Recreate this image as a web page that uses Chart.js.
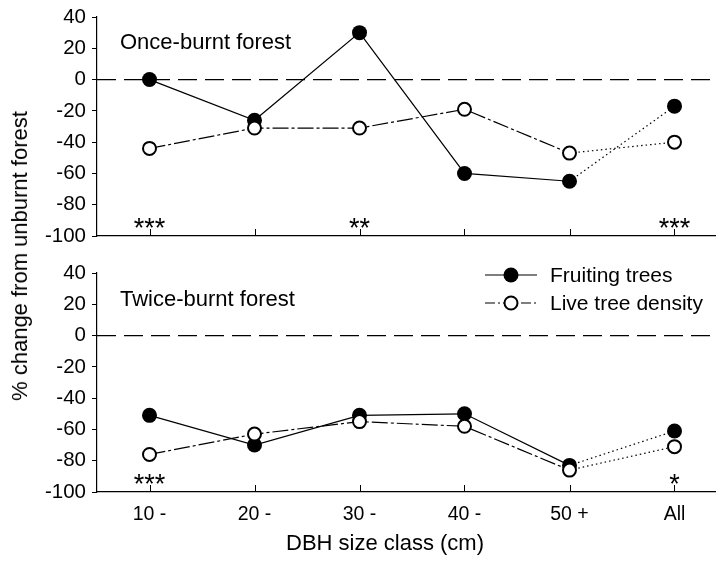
<!DOCTYPE html>
<html>
<head>
<meta charset="utf-8">
<script src="https://cdn.jsdelivr.net/npm/chart.js@4.4.1/dist/chart.umd.min.js"></script>
<style>
	html, body { margin: 0; padding: 0; background: #fff; }
	#wrap { position: relative; width: 716px; height: 564px; overflow: hidden; }
	#topBox { position: absolute; left: 0; top: -6px; width: 716px; height: 268px; }
	#botBox { position: absolute; left: 0; top: 250px; width: 716px; height: 314px; }
	.title { position: absolute; white-space: nowrap; font: 22px "Liberation Sans", Arial, sans-serif; color: #000; }
	#ytitle { left: 20px; top: 256px; transform: translate(-50%, -50%) rotate(-90deg); }
	#xtitle { left: 385px; top: 543px; transform: translate(-50%, -50%); }
</style>
</head>
<body>
<div id="wrap">
	<div id="topBox"><canvas id="top_chart"></canvas></div>
	<div id="botBox"><canvas id="bottom_chart"></canvas></div>
	<div class="title" id="ytitle">% change from unburnt forest</div>
	<div class="title" id="xtitle">DBH size class (cm)</div>
</div>
<script>
// chart values
var categories = ['10 -', '20 -', '30 -', '40 -', '50 +', 'All'];
var onceFruiting = [0, -26, 30, -60, -65, -17];
var onceLive = [-44, -31, -31, -19, -47, -40];
var twiceFruiting = [-51, -70, -51, -50, -83, -61];
var twiceLive = [-76, -63, -55, -58, -86, -71];
var onceStars = ['***', '', '**', '', '', '***'];
var twiceStars = ['***', '', '', '', '', '*'];
var yMin = -100, yMax = 40, yStep = 20;
var starLevel = -92;

var FONT = '"Liberation Sans", Arial, sans-serif';
Chart.defaults.color = '#000';
Chart.defaults.font.family = FONT;

function toPoints(values) {
	return values.map(function (v, i) { return { x: i + 1, y: v }; });
}

// last segment (50 + -> All) is dotted
function lastDotted(normalDash) {
	return function (ctx) {
		return ctx.p1DataIndex === categories.length - 1 ? [1.5, 3] : normalDash;
	};
}

function makeDatasets(fruiting, live) {
	return [{
		label: 'Live tree density',
		data: toPoints(live),
		borderColor: '#000',
		borderWidth: 1.2,
		borderDash: [16, 3, 3, 3],
		pointRadius: 6.5,
		pointBorderWidth: 2,
		pointBackgroundColor: '#fff',
		pointBorderColor: '#000',
		order: 0,
		segment: { borderDash: lastDotted([16, 3, 3, 3]) }
	}, {
		label: 'Fruiting trees',
		data: toPoints(fruiting),
		borderColor: '#000',
		borderWidth: 1.2,
		pointRadius: 7.5,
		pointBorderWidth: 0,
		pointBackgroundColor: '#000',
		order: 1,
		segment: { borderDash: lastDotted([]) }
	}];
}

var panelDecor = {
	id: 'panelDecor',
	beforeDatasetsDraw: function (chart, args, opts) {
		var ctx = chart.ctx;
		var area = chart.chartArea;
		var xs = chart.scales.x;
		var ys = chart.scales.y;
		ctx.save();
		// dashed zero line
		var y0 = ys.getPixelForValue(0);
		ctx.strokeStyle = '#000';
		ctx.lineWidth = 1.2;
		ctx.setLineDash([19, 8]);
		ctx.beginPath();
		ctx.moveTo(area.left, y0);
		ctx.lineTo(area.right, y0);
		ctx.stroke();
		ctx.setLineDash([]);
		// inward x tick marks
		ctx.lineWidth = 1;
		for (var i = 0; i < categories.length; i++) {
			var x = Math.round(xs.getPixelForValue(i + 1)) + 0.5;
			ctx.beginPath();
			ctx.moveTo(x, area.bottom);
			ctx.lineTo(x, area.bottom - 7);
			ctx.stroke();
		}
		// panel label
		ctx.fillStyle = '#000';
		ctx.font = '22px ' + FONT;
		ctx.textBaseline = 'middle';
		ctx.textAlign = 'left';
		ctx.fillText(opts.label, area.left + 23, area.top + opts.labelDy);
		// significance stars
		ctx.font = '27px ' + FONT;
		ctx.textAlign = 'center';
		ctx.textBaseline = 'alphabetic';
		for (var j = 0; j < opts.stars.length; j++) {
			if (!opts.stars[j]) continue;
			ctx.fillText(opts.stars[j], xs.getPixelForValue(j + 1), ys.getPixelForValue(starLevel) + 14);
		}
		ctx.restore();
	}
};

var legendDecor = {
	id: 'legendDecor',
	afterDraw: function (chart, args, opts) {
		if (!opts.show) return;
		var ctx = chart.ctx;
		var area = chart.chartArea;
		var x1 = 485, x2 = 537, xm = 511;
		var yA = area.top + 2, yB = area.top + 30;
		ctx.save();
		ctx.strokeStyle = '#000';
		ctx.fillStyle = '#000';
		ctx.lineWidth = 1.2;
		ctx.beginPath();
		ctx.moveTo(x1, yA); ctx.lineTo(x2, yA);
		ctx.stroke();
		ctx.beginPath();
		ctx.arc(xm, yA, 7.5, 0, Math.PI * 2);
		ctx.fill();

		ctx.setLineDash([10, 3, 2, 3]);
		ctx.beginPath();
		ctx.moveTo(x1, yB); ctx.lineTo(x2, yB);
		ctx.stroke();
		ctx.setLineDash([]);
		ctx.fillStyle = '#fff';
		ctx.lineWidth = 2;
		ctx.beginPath();
		ctx.arc(xm, yB, 6.5, 0, Math.PI * 2);
		ctx.fill();
		ctx.stroke();

		ctx.fillStyle = '#000';
		ctx.font = '21px ' + FONT;
		ctx.textAlign = 'left';
		ctx.textBaseline = 'middle';
		ctx.fillText('Fruiting trees', 550, yA + 1);
		ctx.fillText('Live tree density', 550, yB + 1);
		ctx.restore();
	}
};

function renderPanel(canvasId, fruiting, live, stars, label, labelDy, isBottom) {
	var ctx = document.getElementById(canvasId).getContext('2d');
	return new Chart(ctx, {
		type: 'line',
		data: { datasets: makeDatasets(fruiting, live) },
		options: {
			responsive: true,
			maintainAspectRatio: false,
			animation: false,
			layout: { autoPadding: false, padding: { top: 23, left: 0, right: 0, bottom: 0 } },
			scales: {
				x: {
					type: 'linear',
					min: 0.5,
					max: 0.5 + 619 / 105,
					afterBuildTicks: function (scale) {
						scale.ticks = categories.map(function (c, i) { return { value: i + 1 }; });
					},
					afterFit: function (scale) { scale.height = isBottom ? 72 : 26; },
					grid: { display: false, drawTicks: false },
					border: { display: true, color: '#000', width: 1.2 },
					ticks: {
						display: isBottom,
						autoSkip: false,
						maxRotation: 0,
						padding: 11,
						font: { size: 19.5 },
						callback: function (value) { return categories[value - 1]; }
					}
				},
				y: {
					min: yMin,
					max: yMax,
					afterFit: function (scale) { scale.width = 97; },
					grid: { display: true, drawOnChartArea: false, drawTicks: true, tickLength: 5, color: '#000' },
					border: { display: true, color: '#000', width: 1.2 },
					ticks: { stepSize: yStep, padding: 6, font: { size: 20.5 } }
				}
			},
			plugins: {
				legend: { display: false },
				tooltip: { enabled: false },
				panelDecor: { label: label, labelDy: labelDy, stars: stars },
				legendDecor: { show: isBottom }
			}
		},
		plugins: [panelDecor, legendDecor]
	});
}

renderPanel('top_chart', onceFruiting, onceLive, onceStars, 'Once-burnt forest', 26, false);
renderPanel('bottom_chart', twiceFruiting, twiceLive, twiceStars, 'Twice-burnt forest', 27, true);
</script>
</body>
</html>
